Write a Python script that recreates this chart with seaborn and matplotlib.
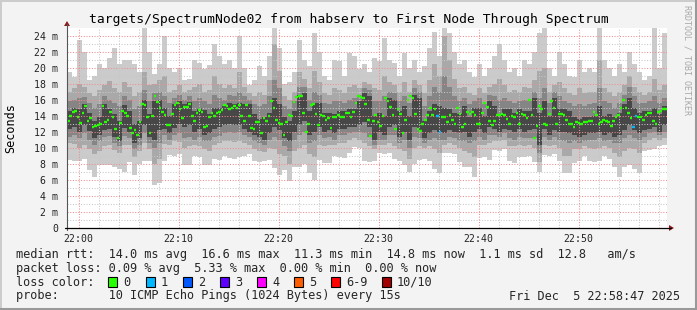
import numpy as np
import matplotlib
matplotlib.use("Agg")
import matplotlib.pyplot as plt
import seaborn as sns
import pandas as pd
from matplotlib.patches import Rectangle
from matplotlib.lines import Line2D

# ---------------- data ----------------
title = "targets/SpectrumNode02 from habserv to First Node Through Spectrum"
x_tick_pos = [0, 10, 20, 30, 40, 50]            # minutes after 22:00
x_tick_labels = ["22:00", "22:10", "22:20", "22:30", "22:40", "22:50"]
y_tick_pos = [0, 2, 4, 6, 8, 10, 12, 14, 16, 18, 20, 22, 24]
y_tick_labels = ["0", "2 m", "4 m", "6 m", "8 m", "10 m", "12 m", "14 m",
                 "16 m", "18 m", "20 m", "22 m", "24 m"]
t_start = -1.15      # minutes relative to 22:00 (21:58:51)
t_span = 60.0

# median rtt (ms), one value per 15 s ping round
median_rtt = [
    13.4, 14.0, 14.5, 14.65, 13.8, 13.1, 14.4, 15.2, 13.4, 13.7, 12.6, 12.7, 12.8, 13.0, 15.2,
    13.2, 13.5, 14.5, 13.8, 12.3, 11.2, 13.1, 14.6, 14.4, 14.0, 12.5, 11.8, 12.2, 11.6, 13.2,
    15.5, 15.3, 13.8, 11.8, 14.0, 16.5, 15.7, 15.0, 14.5, 14.1, 12.8, 12.9, 14.2, 15.3, 15.6,
    14.8, 13.7, 15.1, 15.1, 15.5, 14.0, 13.3, 14.4, 14.7, 14.5, 12.6, 12.7, 13.8, 14.4,
    14.0, 14.4, 14.5, 14.7, 15.3, 15.2, 14.8, 15.0, 15.2, 14.95, 15.3, 14.0, 13.3, 15.3, 14.0,
    12.5, 12.3, 13.2, 13.2, 11.8, 13.7, 13.3, 14.0, 15.8, 15.0, 13.5, 13.1, 13.0, 11.6, 13.2,
    14.05, 14.0, 15.7, 16.3, 16.45, 16.45, 14.4, 12.0, 13.0, 15.3, 15.45, 14.25, 12.8, 14.1, 14.0,
    13.5, 13.7, 12.5, 13.8, 13.8, 14.1, 13.8, 13.8, 14.4, 14.4, 13.8, 14.5, 15.6, 16.45, 16.3,
    16.2, 15.45, 13.5, 11.5, 13.4, 14.1, 13.2, 12.7, 14.0, 16.2, 15.8, 15.1, 14.05, 12.4, 14.8,
    14.25, 11.9, 13.5, 16.0, 16.45, 16.2, 14.25, 12.4, 12.05, 13.0, 13.5, 14.1, 14.95, 14.05, 14.8,
    14.0, 12.0, 13.8, 13.8, 13.2, 14.05, 13.5, 13.0, 14.95, 14.2, 12.6, 13.0, 14.45, 14.25, 14.5,
    14.1, 13.0, 13.0, 14.4, 15.6, 15.1, 13.3, 12.8, 13.4, 14.05, 14.05, 14.25, 14.1, 13.6, 13.0,
    14.0,
    13.8, 14.4, 13.0, 14.2, 14.1, 13.7, 15.9, 14.05, 11.2, 12.7, 15.2, 14.8, 13.0, 12.9, 14.2,
    15.8, 14.95, 13.0, 14.25, 14.25, 14.1, 13.5, 13.0, 13.0, 12.6, 13.2, 13.1, 13.0, 13.2, 13.2,
    13.3, 13.3, 14.5, 14.1, 13.0, 13.2, 13.5, 13.4, 13.2, 12.7, 13.3, 13.8, 14.05, 15.0, 15.9,
    14.95, 14.4, 13.7, 12.6, 14.0, 13.8, 13.8, 13.5, 14.1, 14.4, 14.4, 13.3, 13.0, 14.5, 14.65,
    14.8, 14.8,
]
loss_rounds = [149, 150, 228, 229]   # rounds with 1 of 10 pings lost

# smoke (sorted ping percentiles), one value per 30 s
smoke_max = [
    19.5, 18.8, 23.4, 22.0, 18.5, 19.0, 20.5, 20.0, 21.2, 22.4, 20.5, 21.0, 21.0, 20.5, 19.5,
    25.0, 22.0, 19.2, 20.5, 24.0, 20.0, 19.5, 20.0, 18.4, 18.6, 21.0, 20.6, 19.8, 20.3, 23.0,
    21.5, 20.5, 21.0, 20.0, 24.0, 20.0, 17.8, 18.5, 20.2, 19.0, 21.5, 25.2, 22.5, 18.0, 18.2,
    19.5, 23.4, 21.0, 20.2, 24.3, 22.0, 19.0, 18.4, 21.0, 20.8, 19.0, 21.8, 21.5, 19.8, 20.4,
    19.5, 21.2, 20.8, 23.7, 21.0, 20.6, 19.0, 21.8, 20.0, 21.0, 19.5, 20.2, 22.5, 24.4, 21.5,
    25.3, 24.3, 22.0, 20.5, 21.0, 19.4, 18.8, 20.5, 19.0, 20.0, 21.5, 23.0, 21.0, 19.5, 20.0,
    19.0, 21.0, 20.5, 22.0, 24.3, 25.3, 20.0, 19.0, 22.0, 20.4, 19.0, 18.8, 21.0, 19.5, 20.0,
    19.4, 25.3, 21.0, 20.0, 19.0, 20.5, 19.5, 22.0, 20.5, 19.4, 18.5, 19.0, 25.3, 20.0, 24.3,
]
smoke_p9 = [
    17.0, 17.4, 18.0, 17.6, 16.8, 16.5, 17.2, 17.8, 18.3, 17.5, 16.9, 18.2, 17.6, 16.4, 17.0,
    19.5, 17.8, 18.0, 18.4, 19.0, 17.0, 17.2, 17.8, 16.9, 17.2, 17.6, 18.0, 17.0, 17.2, 19.0,
    18.0, 17.4, 17.8, 17.4, 19.5, 17.6, 16.8, 16.5, 16.9, 16.6, 18.4, 23.0, 19.6, 16.4, 16.0,
    17.0, 19.4, 18.6, 17.4, 19.6, 18.2, 16.8, 16.6, 17.4, 17.2, 16.8, 17.6, 17.8, 17.4, 18.2,
    18.0, 17.4, 17.2, 19.0, 18.2, 17.8, 17.0, 18.2, 17.0, 18.4, 17.8, 16.8, 18.4, 20.4, 19.0,
    24.0, 21.0, 18.6, 17.4, 17.6, 16.8, 16.6, 17.4, 16.8, 17.6, 18.0, 18.6, 17.8, 17.0, 17.2,
    17.0, 17.6, 17.4, 18.4, 19.6, 20.0, 17.0, 17.8, 18.2, 17.4, 16.8, 16.6, 17.4, 16.8, 17.0,
    17.0, 21.0, 17.4, 17.0, 16.4, 17.0, 17.8, 19.0, 17.6, 17.0, 16.6, 17.0, 18.6, 17.2, 17.8,
]
smoke_p8 = [
    15.8, 16.0, 16.2, 16.3, 15.6, 15.0, 15.4, 16.4, 16.0, 15.6, 15.2, 16.5, 16.0, 14.8, 15.2,
    17.2, 15.8, 16.8, 17.0, 16.4, 15.6, 16.2, 16.6, 16.0, 16.4, 15.8, 16.2, 15.8, 15.4, 16.6,
    16.2, 16.0, 16.6, 16.4, 17.0, 16.4, 16.0, 15.4, 15.2, 15.4, 16.4, 18.5, 17.4, 15.2, 14.8,
    15.8, 17.6, 17.6, 16.0, 17.0, 16.6, 15.6, 15.4, 15.8, 15.8, 15.6, 16.0, 16.2, 16.6, 17.4,
    17.2, 15.8, 15.8, 16.4, 17.0, 16.8, 15.8, 16.4, 15.6, 17.4, 17.0, 15.2, 16.4, 17.6, 17.0,
    19.0, 17.6, 16.4, 15.8, 16.2, 15.4, 15.8, 16.2, 15.4, 16.6, 16.4, 16.0, 16.2, 15.8, 15.6,
    15.8, 16.0, 15.8, 17.0, 16.2, 17.4, 15.6, 17.0, 16.4, 15.8, 15.6, 15.2, 15.4, 15.2, 15.4,
    15.6, 17.4, 15.8, 15.6, 15.0, 15.6, 16.6, 17.6, 16.4, 15.6, 15.6, 15.8, 16.4, 15.6, 16.2,
]
smoke_p7 = [
    14.6, 15.0, 14.8, 15.4, 14.4, 13.4, 13.9, 15.4, 14.9, 14.2, 13.3, 15.3, 14.6, 13.0, 13.4,
    16.0, 14.2, 15.8, 15.9, 15.0, 14.0, 15.4, 15.8, 15.4, 15.7, 14.6, 15.0, 14.7, 14.2, 15.0,
    15.0, 15.2, 15.6, 15.4, 15.6, 15.4, 15.4, 14.2, 13.6, 13.8, 14.4, 16.2, 15.4, 13.8, 13.4,
    14.6, 16.6, 16.8, 14.6, 15.6, 15.6, 14.4, 14.4, 14.2, 14.6, 14.6, 14.8, 14.8, 15.8, 16.8,
    16.4, 14.0, 14.4, 14.0, 16.2, 16.0, 14.6, 15.2, 14.0, 16.6, 16.2, 13.4, 14.6, 15.4, 15.2,
    15.0, 14.8, 14.4, 14.2, 15.2, 13.8, 15.0, 15.0, 14.0, 15.8, 15.2, 14.2, 14.8, 14.8, 14.4,
    14.8, 14.6, 14.6, 16.2, 14.4, 15.8, 14.0, 16.2, 15.0, 14.8, 14.6, 13.8, 13.6, 13.8, 13.8,
    14.0, 15.2, 14.0, 14.2, 13.8, 14.4, 15.4, 16.2, 15.0, 14.4, 14.6, 14.6, 15.0, 14.2, 15.2,
]
smoke_p4 = [
    12.3, 12.6, 12.0, 12.8, 12.1, 11.2, 11.6, 12.2, 12.4, 11.3, 10.9, 12.5, 12.0, 10.6, 11.2,
    12.8, 11.4, 11.0, 12.2, 12.4, 11.8, 12.5, 13.0, 12.6, 12.8, 12.0, 12.4, 11.6, 11.8, 12.4,
    12.6, 12.8, 13.0, 12.8, 12.9, 12.4, 12.0, 11.6, 11.4, 11.0, 11.8, 12.6, 12.2, 11.2, 10.8,
    12.0, 12.8, 13.4, 11.6, 12.0, 12.6, 12.0, 12.2, 11.8, 12.4, 12.4, 12.6, 12.6, 12.8, 13.2,
    12.6, 11.0, 12.0, 11.6, 12.6, 12.8, 11.4, 12.0, 11.0, 12.6, 12.2, 11.2, 11.8, 12.2, 12.0,
    11.8, 12.2, 12.0, 11.8, 12.0, 11.4, 12.0, 12.4, 11.8, 12.6, 12.4, 12.0, 12.4, 12.2, 12.0,
    12.4, 12.0, 12.2, 12.4, 10.4, 12.4, 11.6, 12.2, 12.0, 12.0, 11.8, 11.6, 11.4, 11.6, 11.8,
    11.8, 12.0, 11.6, 11.8, 11.4, 11.6, 12.2, 12.8, 12.2, 11.8, 12.2, 12.4, 12.6, 12.0, 12.8,
]
smoke_p3 = [
    11.4, 11.6, 11.2, 11.8, 11.0, 10.4, 10.8, 11.3, 11.5, 10.6, 10.2, 11.5, 11.2, 9.9, 10.4,
    11.8, 10.6, 10.0, 10.6, 11.6, 11.0, 11.6, 11.8, 11.2, 11.4, 11.0, 11.4, 10.8, 10.9, 11.4,
    11.5, 11.8, 12.0, 11.8, 12.0, 11.6, 11.4, 10.8, 10.6, 10.4, 11.0, 11.4, 11.0, 10.2, 9.6,
    11.0, 11.6, 12.0, 10.6, 10.8, 11.6, 11.2, 11.4, 11.0, 11.6, 11.6, 11.8, 12.0, 12.0, 11.8,
    11.4, 10.4, 11.0, 11.0, 11.6, 11.6, 10.6, 11.0, 10.0, 11.4, 11.2, 10.6, 11.0, 11.2, 11.0,
    11.0, 11.4, 11.2, 10.8, 10.8, 10.6, 10.8, 11.4, 11.0, 11.6, 11.6, 11.4, 11.8, 11.2, 11.0,
    11.4, 11.2, 11.2, 11.2, 9.4, 11.4, 11.0, 11.4, 11.0, 10.8, 10.6, 10.8, 10.6, 10.8, 11.0,
    11.0, 11.2, 10.8, 11.0, 10.6, 10.6, 11.2, 11.6, 11.2, 11.0, 11.4, 11.8, 12.0, 11.6, 12.0,
]
smoke_p2 = [
    10.6, 10.5, 10.0, 10.4, 9.8, 9.2, 9.6, 10.2, 10.3, 9.7, 9.3, 10.3, 10.4, 8.8, 9.6,
    10.6, 9.8, 8.0, 8.6, 10.5, 10.4, 10.8, 10.7, 10.0, 10.2, 10.3, 10.2, 9.8, 9.6, 10.3,
    10.6, 10.8, 10.9, 10.7, 10.8, 10.6, 10.4, 9.8, 9.6, 9.5, 10.0, 9.8, 9.2, 9.0, 8.0,
    9.6, 10.0, 10.4, 9.2, 8.8, 10.4, 10.2, 10.4, 10.4, 10.6, 10.6, 11.0, 11.2, 11.0, 10.6,
    10.2, 9.8, 10.4, 10.4, 10.6, 10.2, 9.8, 9.6, 8.6, 10.0, 10.2, 10.0, 10.2, 9.8, 9.4,
    10.4, 10.6, 10.4, 10.0, 9.6, 9.4, 8.8, 10.4, 10.4, 10.6, 10.8, 10.8, 11.0, 10.2, 10.2,
    10.4, 10.2, 10.4, 10.0, 8.2, 10.4, 10.2, 10.4, 10.0, 9.0, 9.0, 9.8, 9.8, 10.2, 10.0,
    9.8, 10.0, 10.2, 10.0, 9.4, 8.8, 9.6, 10.0, 9.8, 9.4, 10.6, 11.0, 11.2, 11.0, 11.2,
]
smoke_min = [
    8.5, 8.4, 8.4, 8.6, 7.2, 6.4, 7.9, 7.8, 7.9, 7.6, 7.4, 7.0, 8.2, 6.6, 8.0,
    8.3, 8.4, 5.4, 5.6, 8.3, 9.1, 9.0, 9.2, 7.8, 7.9, 9.0, 8.8, 7.9, 7.8, 8.6,
    8.5, 9.0, 8.7, 8.6, 8.8, 9.0, 9.2, 8.4, 8.2, 8.3, 8.5, 7.5, 6.6, 7.2, 5.8,
    7.6, 7.6, 8.0, 6.8, 6.0, 8.5, 8.1, 8.1, 9.0, 8.9, 8.7, 9.4, 10.1, 10.0, 8.3,
    8.2, 8.4, 9.3, 9.2, 9.4, 8.6, 8.3, 7.8, 7.0, 8.0, 8.5, 8.6, 8.4, 7.4, 6.8,
    9.3, 9.4, 9.2, 8.2, 7.6, 7.6, 6.4, 8.7, 8.8, 8.5, 9.7, 9.6, 9.8, 8.3, 8.1,
    8.9, 8.8, 9.0, 8.2, 7.0, 9.1, 9.0, 9.2, 8.4, 6.8, 6.9, 8.1, 8.3, 9.0, 8.3,
    8.2, 8.4, 9.0, 8.6, 7.6, 6.4, 7.6, 7.8, 7.4, 6.8, 9.6, 9.7, 9.8, 10.2, 10.3,
]

legend_rtt = "median rtt:  14.0 ms avg  16.6 ms max  11.3 ms min  14.8 ms now  1.1 ms sd  12.8   am/s"
legend_loss = "packet loss: 0.09 % avg  5.33 % max  0.00 % min  0.00 % now"
loss_labels = ["0", "1", "2", "3", "4", "5", "6-9", "10/10"]
loss_colors = ["#26ff00", "#00b8ff", "#0059ff", "#5e00ff", "#ff00ff", "#ff5e00", "#ff0000", "#a10000"]
probe_text = "probe:       10 ICMP Echo Pings (1024 Bytes) every 15s"
date_text = "Fri Dec  5 22:58:47 2025"
watermark = "RRDTOOL / TOBI OETIKER"

# ---------------- figure ----------------
sns.set_theme(style="white")
plt.rcParams["font.family"] = ["DejaVu Sans Mono", "DejaVu Sans"]

W, H = 697, 310
fig = plt.figure(figsize=(W / 100, H / 100), dpi=100, facecolor="#f3f3f3")

def fx(px):
    return px / W

def fy(py):
    return 1 - py / H

ax_l, ax_r, ax_t, ax_b = 67, 667, 28, 228
ax = fig.add_axes([fx(ax_l), fy(ax_b), (ax_r - ax_l) / W, (ax_b - ax_t) / H])
ax.set_facecolor("white")

n_smoke = len(smoke_max)
step_s = t_span / n_smoke
edges = t_start + step_s * np.arange(n_smoke + 1)

def ext(a):
    return list(a) + [a[-1]]

bands = [
    (smoke_min, smoke_max, "#cbcbcb"),
    (smoke_p2, smoke_p9, "#a9a9a9"),
    (smoke_p3, smoke_p8, "#858585"),
    (smoke_p4, smoke_p7, "#474747"),
]
for lo, hi, col in bands:
    ax.fill_between(edges, ext(lo), ext(hi), step="post", color=col, lw=0, zorder=1)

# grid on top of smoke (rrdtool style)
dot = (0, (1.0, 1.6))
for yv in np.arange(1, 25, 1):
    major = (yv % 2 == 0)
    ax.axhline(yv, color="#f08c8c" if major else "#c8c8c8", lw=0.75,
               linestyle=dot, zorder=2)
for xv in np.arange(0, 60, 2):
    major = (xv % 10 == 0)
    ax.axvline(xv, color="#f08c8c" if major else "#c8c8c8", lw=0.75,
               linestyle=dot, zorder=2)

# median rtt as short horizontal dashes coloured by loss
n_med = len(median_rtt)
step_m = t_span / n_med
df = pd.DataFrame({
    "t": t_start + step_m * (np.arange(n_med) + 0.5),
    "rtt": median_rtt,
    "loss": ["1" if i in loss_rounds else "0" for i in range(n_med)],
})
dash_pt = step_m * 10 * 72 / 100 * 1.05
sns.scatterplot(data=df, x="t", y="rtt", hue="loss",
                palette={"0": loss_colors[0], "1": loss_colors[1]},
                marker="_", s=dash_pt ** 2, linewidth=1.7, legend=False,
                ax=ax, zorder=4)

ax.set_xlim(t_start, t_start + t_span)
ax.set_ylim(0, (ax_b - ax_t) / 8.02)
ax.set_xticks(x_tick_pos)
ax.set_xticklabels(x_tick_labels)
ax.set_yticks(y_tick_pos)
ax.set_yticklabels(y_tick_labels)
ax.tick_params(axis="both", labelsize=7.1, colors="#000000", length=2,
               width=0.7, direction="out", pad=2.5)
ax.tick_params(axis="y", pad=4.5)
for lab in ax.get_xticklabels() + ax.get_yticklabels():
    lab.set_color("#222222")
ax.set_xlabel("")
ax.set_ylabel("")
for s in ["top", "right", "left", "bottom"]:
    ax.spines[s].set_visible(False)

# axes lines with arrows (in figure pixel space)
fig.add_artist(Line2D([fx(ax_l), fx(ax_l)], [fy(ax_b + 2), fy(24)],
                      color="#555555", lw=0.8))
fig.add_artist(Line2D([fx(ax_l - 2), fx(671)], [fy(ax_b), fy(ax_b)],
                      color="#000000", lw=0.9))
fig.add_artist(plt.Polygon([[fx(ax_l - 3), fy(26)], [fx(ax_l + 3), fy(26)],
                            [fx(ax_l), fy(21)]], closed=True,
                           color="#8b1a1a", lw=0))
fig.add_artist(plt.Polygon([[fx(669), fy(ax_b - 3)], [fx(669), fy(ax_b + 3)],
                            [fx(674), fy(ax_b)]], closed=True,
                           color="#8b1a1a", lw=0))

# titles and labels
fig.text(fx(348.5), fy(19), title, ha="center", va="center", fontsize=9.4,
         color="#000000")
fig.text(fx(11), fy(128), "Seconds", rotation=90, ha="center", va="center",
         fontsize=8.5, color="#000000")
fig.text(fx(687.5), fy(5), watermark, rotation=270, ha="center", va="top",
         fontsize=6.0, color="#a8a8a8")

# legend block
leg_fs = 8.55
fig.text(fx(16), fy(254.5), legend_rtt, ha="left", va="center", fontsize=leg_fs)
fig.text(fx(16), fy(268.5), legend_loss, ha="left", va="center", fontsize=leg_fs)
fig.text(fx(16), fy(282), "loss color:", ha="left", va="center", fontsize=leg_fs)
box_x = [108, 145.5, 183, 220, 257, 294, 331, 382]
for bx, lab, col in zip(box_x, loss_labels, loss_colors):
    fig.add_artist(Rectangle((fx(bx), fy(287)), 9 / W, 10 / H, facecolor=col,
                             edgecolor="#000000", lw=0.8))
    fig.text(fx(bx + 15), fy(282), lab, ha="left", va="center", fontsize=leg_fs)
fig.text(fx(16), fy(296), probe_text, ha="left", va="center", fontsize=leg_fs)
fig.text(fx(680), fy(296), date_text, ha="right", va="center", fontsize=leg_fs)

# 3D frame
fig.add_artist(Line2D([0, 1], [fy(0.5), fy(0.5)], color="#cbcbcb", lw=1.4))
fig.add_artist(Line2D([fx(0.5), fx(0.5)], [0, 1], color="#cbcbcb", lw=1.4))
fig.add_artist(Line2D([0, 1], [fy(H - 1), fy(H - 1)], color="#999999", lw=2.2))
fig.add_artist(Line2D([fx(W - 1), fx(W - 1)], [0, 1], color="#999999", lw=2.2))

fig.savefig("out.png", dpi=100, facecolor=fig.get_facecolor())
